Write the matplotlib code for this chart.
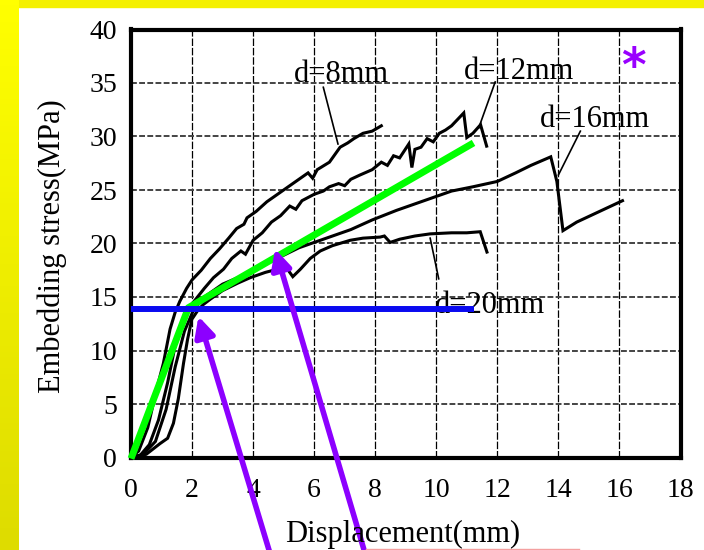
import matplotlib
matplotlib.use("Agg")
import matplotlib.pyplot as plt
import numpy as np
from matplotlib.colors import LinearSegmentedColormap
from matplotlib.patches import Rectangle
from matplotlib.lines import Line2D

plt.rcParams['font.family'] = ['Liberation Serif', 'DejaVu Serif']

# Embedding stress curves (displacement mm, stress MPa)
d8_x = [0.0, 0.25, 0.55, 0.85, 1.06, 1.28, 1.45, 1.6, 1.82, 2.0, 2.3, 2.6, 2.9, 3.2, 3.46,
        3.7, 3.8, 4.1, 4.45, 4.7, 5.0, 5.3, 5.65, 5.8, 5.95, 6.1, 6.5, 6.85, 7.1, 7.3, 7.6,
        7.9, 8.2]
d8_y = [0.0, 0.6, 2.8, 6.5, 8.8, 12.0, 13.6, 14.6, 15.8, 16.6, 17.5, 18.6, 19.5, 20.5, 21.4,
        21.8, 22.4, 23.0, 23.9, 24.4, 25.0, 25.6, 26.3, 26.6, 26.1, 26.9, 27.6, 29.0, 29.4,
        29.8, 30.3, 30.5, 31.0]

d12_x = [0.0, 0.3, 0.6, 0.9, 1.2, 1.45, 1.7, 2.04, 2.4, 2.7, 3.03, 3.3, 3.6, 3.75, 4.0, 4.3,
         4.6, 4.9, 5.2, 5.4, 5.6, 6.0, 6.3, 6.5, 6.8, 7.0, 7.2, 7.5, 7.9, 8.2, 8.4, 8.6, 8.8,
         9.1, 9.2, 9.3, 9.5, 9.7, 9.9, 10.1, 10.3, 10.5, 10.7, 10.9, 11.0, 11.2, 11.45, 11.65]
d12_y = [0.0, 0.2, 1.2, 3.5, 7.0, 10.5, 12.8, 14.5, 15.8, 16.8, 17.6, 18.6, 19.3, 19.0, 20.3,
         21.0, 22.0, 22.6, 23.5, 23.2, 24.0, 24.6, 24.9, 25.3, 25.6, 25.4, 26.0, 26.4, 26.9,
         27.6, 27.3, 28.2, 28.0, 29.3, 27.1, 28.8, 29.0, 29.8, 29.5, 30.3, 30.6, 31.0, 31.6,
         32.2, 29.9, 30.3, 31.1, 29.1]

d16_x = [0.0, 0.4, 0.8, 1.15, 1.45, 1.75, 2.05, 2.4, 3.0, 3.9, 4.5, 5.0, 5.5, 6.0, 6.5, 7.2,
         7.9, 8.7, 9.8, 10.5, 11.2, 12.0, 12.6, 13.1, 13.75, 13.95, 14.15, 14.6, 15.2, 16.1]
d16_y = [0.0, 0.3, 1.5, 4.5, 8.5, 11.8, 13.8, 15.0, 16.2, 17.3, 18.2, 18.9, 19.6, 20.1, 20.6,
         21.3, 22.2, 23.1, 24.2, 24.9, 25.3, 25.8, 26.6, 27.3, 28.1, 25.8, 21.2, 22.0, 22.8,
         24.0]

d20_x = [0.0, 0.5, 0.95, 1.2, 1.39, 1.55, 1.72, 1.85, 1.99, 2.2, 2.37, 2.6, 3.0, 3.5, 3.9,
         4.4, 4.8, 5.05, 5.3, 5.55, 5.87, 6.2, 6.6, 7.18, 7.6, 8.16, 8.3, 8.49, 8.8, 9.3, 9.8,
         10.5, 11.0, 11.44, 11.66]
d20_y = [0.0, 0.3, 1.3, 1.8, 3.2, 5.5, 8.8, 11.0, 12.9, 13.8, 14.3, 14.8, 15.6, 16.3, 16.8,
         17.3, 17.6, 17.9, 16.9, 17.6, 18.6, 19.3, 19.8, 20.3, 20.5, 20.6, 20.7, 20.1, 20.4,
         20.7, 20.9, 21.0, 21.0, 21.1, 19.2]

curve_labels = ['d=8mm', 'd=12mm', 'd=16mm', 'd=20mm']
label_x = [5.34, 10.9, 13.39, 9.97]
label_y = [35.1, 35.4, 30.9, 13.55]
leader_start = [(6.3, 34.6), (11.93, 35.1), (14.72, 30.5), (9.8, 20.5)]
leader_end = [(6.78, 29.3), (11.39, 30.8), (14.0, 26.4), (10.08, 16.7)]

# bilinear idealisation drawn over the scan
green_x = [0.0, 1.88, 11.22]
green_y = [-0.1, 14.0, 29.4]
blue_x = [0.0, 11.22]
blue_y = [13.9, 13.9]

# purple arrows: tip in data coords, tail in figure pixels
arrow_tips = [(2.21, 13.2), (4.72, 19.5)]
arrow_tails = [(272, -10), (367, -10)]

fig = plt.figure(figsize=(7.04, 5.5), dpi=100)
fig.patch.set_facecolor('white')

# yellow frame on top and left
fig.add_artist(Rectangle((0, 1 - 7 / 550), 1, 7 / 550, transform=fig.transFigure,
                         color='#f4f000', zorder=0))
gax = fig.add_axes([0, 0, 19 / 704, 1])
ycmap = LinearSegmentedColormap.from_list('yel', ['#ffff00', '#dedc00'])
gax.imshow(np.linspace(0, 1, 100).reshape(-1, 1), aspect='auto', cmap=ycmap)
gax.axis('off')

ax = fig.add_axes([131 / 704, 92.5 / 550, 549.5 / 704, 428 / 550])
ax.set_xlim(0, 18)
ax.set_ylim(0, 40)
ax.set_xticks(np.arange(0, 19, 2))
ax.set_yticks(np.arange(0, 41, 5))
ax.tick_params(length=0, labelsize=20)
ax.tick_params(axis='x', pad=15)
ax.tick_params(axis='y', pad=10)
for sp in ax.spines.values():
    sp.set_linewidth(3)

for gx in range(2, 18, 2):
    ax.axvline(gx, color='black', lw=0.9, ls=(0, (6, 1.5)), zorder=1)
for gy in range(5, 40, 5):
    ax.axhline(gy, color='#444444', lw=1.4, ls=(0, (3, 1.2)), zorder=1)

for xs, ys in [(d8_x, d8_y), (d12_x, d12_y), (d16_x, d16_y), (d20_x, d20_y)]:
    ax.plot(xs, ys, color='black', lw=2.2, zorder=3, solid_joinstyle='miter')

for lab, lx, ly, (sx, sy), (ex, ey) in zip(curve_labels, label_x, label_y, leader_start, leader_end):
    ax.text(lx, ly, lab, fontsize=22, ha='left', va='baseline', zorder=4)
    ax.plot([sx, ex], [sy, ey], color='black', lw=1.2, zorder=3)

ax.plot(green_x, green_y, color='#00ff00', lw=5, zorder=5, solid_capstyle='butt',
        clip_on=False)
ax.plot(blue_x, blue_y, color='#0a0af0', lw=4.3, zorder=6, solid_capstyle='butt')

for (tx, ty), tail in zip(arrow_tips, arrow_tails):
    ax.annotate('', xy=(tx, ty), xycoords='data', xytext=tail, textcoords='figure pixels',
                arrowprops=dict(arrowstyle='-|>,head_length=0.6,head_width=0.3',
                                color='#8c00ff', lw=4, mutation_scale=20,
                                shrinkA=0, shrinkB=0),
                annotation_clip=False, zorder=7)

ax.text(16.47, 36.4, '*', color='#9900ff', fontsize=34, fontweight='bold',
        family='DejaVu Sans', ha='center', va='center', zorder=7)

fig.text(403 / 704, 8 / 550, 'Displacement(mm)', fontsize=22, ha='center', va='baseline')
fig.text(52 / 704, 1 - 246.5 / 550, 'Embedding stress(MPa)', fontsize=22, rotation=90,
         ha='center', va='center')

fig.add_artist(Line2D([366 / 704, 579 / 704], [1.2 / 550, 1.2 / 550],
                      transform=fig.transFigure, color='#f4a0a0', lw=1))

fig.savefig('out.png', dpi=100)
